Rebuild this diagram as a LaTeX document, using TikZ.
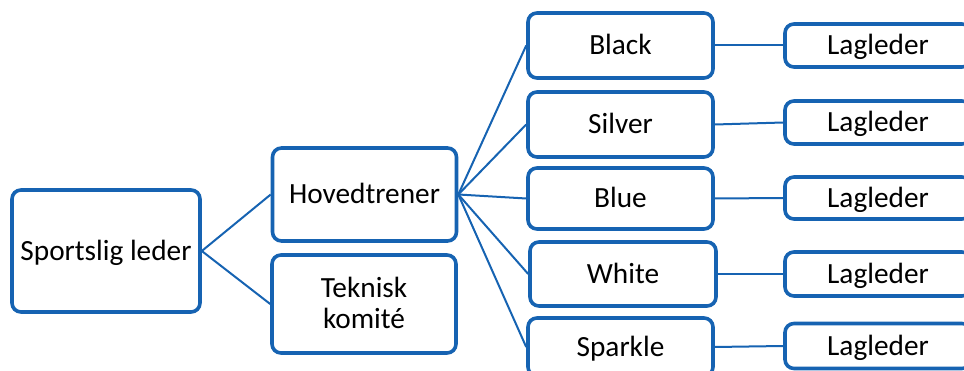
\documentclass[tikz,border=0pt]{standalone}
\usepackage{fontspec}
\setmainfont{Carlito}
\definecolor{boxblue}{RGB}{22,99,178}
\tikzset{
  orgbox/.style={draw=boxblue, line width=3.6pt, rounded corners=9pt, fill=white,
    inner sep=0pt, align=center, font=\fontsize{29.3}{31.5}\selectfont, text=black,
    text height=21.8pt, text depth=3pt},
  link/.style={draw=boxblue, line width=2pt}
}
\begin{document}
\begin{tikzpicture}[x=1pt,y=-1pt]
\useasboundingbox (0,0) rectangle (964,371);
\clip (0,0) rectangle (964,371);
\node[orgbox, minimum width=188pt, minimum height=122pt] (sl) at (106,251) {Sportslig leder};
\node[orgbox, minimum width=184pt, minimum height=93pt] (ht) at (364.5,194.5) {Hovedtrener};
\node[orgbox, minimum width=184pt, minimum height=98pt, text height=52pt] (tk) at (364,304) {Teknisk\\komité};
\node[orgbox, minimum width=185pt, minimum height=65pt] (black) at (620.5,45.5) {Black};
\node[orgbox, minimum width=185pt, minimum height=65pt] (silver) at (620.5,124.5) {Silver};
\node[orgbox, minimum width=185pt, minimum height=61pt] (blue) at (620.5,198.5) {Blue};
\node[orgbox, minimum width=186pt, minimum height=64pt] (white) at (623,274) {White};
\node[orgbox, minimum width=185pt, minimum height=58pt] (sparkle) at (620.5,347) {Sparkle};
\node[orgbox, minimum width=186pt, minimum height=43pt] (l1) at (878,45.5) {Lagleder};
\node[orgbox, minimum width=186pt, minimum height=43pt] (l2) at (878,122.5) {Lagleder};
\node[orgbox, minimum width=186pt, minimum height=42pt] (l3) at (878,198) {Lagleder};
\node[orgbox, minimum width=186pt, minimum height=44pt] (l4) at (878,274) {Lagleder};
\node[orgbox, minimum width=186pt, minimum height=45pt] (l5) at (878,346) {Lagleder};
\draw[link] (sl.east) -- (ht.west);
\draw[link] (sl.east) -- (tk.west);
\foreach \t in {black,silver,blue,white,sparkle} \draw[link] (ht.east) -- (\t.west);
\draw[link] (black.east) -- (l1.west);
\draw[link] (silver.east) -- (l2.west);
\draw[link] (blue.east) -- (l3.west);
\draw[link] (white.east) -- (l4.west);
\draw[link] (sparkle.east) -- (l5.west);
\end{tikzpicture}
\end{document}
